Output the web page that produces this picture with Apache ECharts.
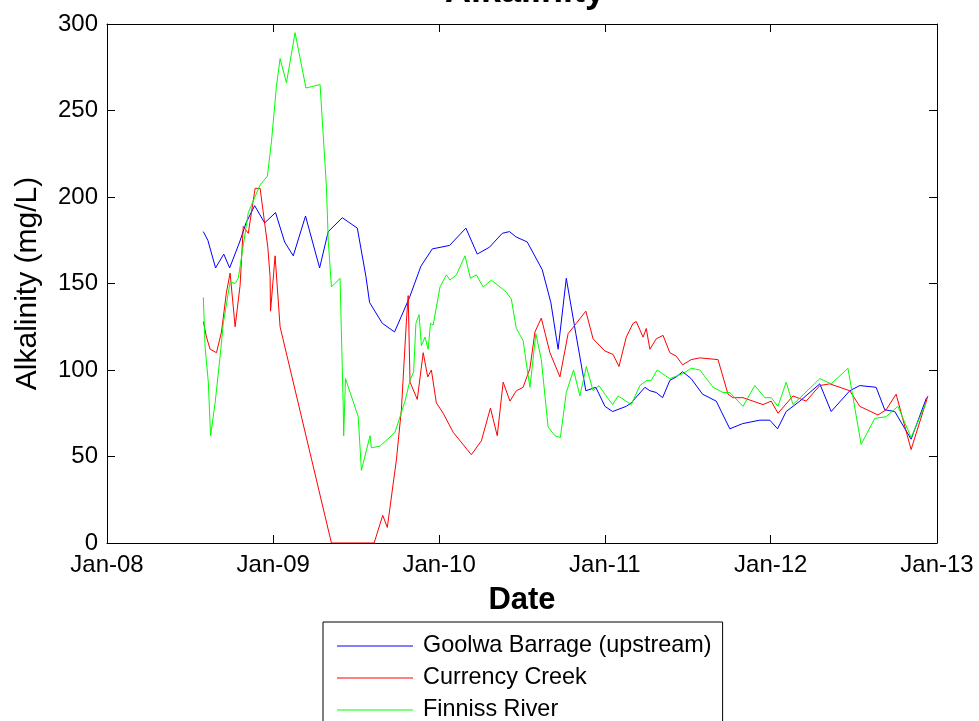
<!DOCTYPE html>
<html>
<head>
<meta charset="utf-8">
<script src="https://cdn.jsdelivr.net/npm/echarts@6/dist/echarts.min.js"></script>
<style>
html,body{margin:0;padding:0;background:#fff;}
#main{width:979px;height:721px;}
</style>
</head>
<body>
<div id="main"></div>
<script>
// Goolwa Barrage (upstream)
var goolwaDates = ['2008-07-31','2008-08-10','2008-08-27','2008-09-14','2008-09-27','2008-10-19','2008-11-02','2008-11-21','2008-12-13','2009-01-06','2009-01-26','2009-02-14','2009-03-13','2009-04-13','2009-05-02','2009-06-02','2009-07-05','2009-07-24','2009-08-01','2009-08-29','2009-09-25','2009-10-28','2009-11-22','2009-12-17','2010-01-24','2010-03-01','2010-03-26','2010-04-22','2010-05-20','2010-06-05','2010-06-19','2010-07-14','2010-08-16','2010-09-04','2010-09-20','2010-10-08','2010-10-29','2010-11-20','2010-12-12','2011-01-01','2011-01-18','2011-02-17','2011-02-28','2011-03-30','2011-04-10','2011-04-24','2011-05-08','2011-05-24','2011-06-07','2011-06-21','2011-07-10','2011-08-04','2011-09-03','2011-10-03','2011-10-31','2011-12-08','2011-12-30','2012-01-16','2012-02-04','2012-03-05','2012-04-18','2012-05-13','2012-06-23','2012-07-15','2012-08-20','2012-09-08','2012-09-30','2012-11-05','2012-12-09'];
var goolwaValues = [180,175,159,167,159,174,185,195,185,191,174,166,189,159,180,188,182,154,139,127,122,142,160,170,172,182,167,171,179,180,177,174,158,139,112,153,121,88,90,79,76,79,81,90,88,87,84,94,96,99,95,86,82,66,69,71,71,66,76,82,92,76,88,91,90,77,76,60,84];

// Currency Creek
var currencyDates = ['2008-07-31','2008-08-07','2008-08-15','2008-08-29','2008-09-09','2008-09-20','2008-09-28','2008-10-09','2008-10-20','2008-10-27','2008-11-07','2008-11-22','2008-12-03','2008-12-20','2008-12-25','2008-12-26','2009-01-05','2009-01-16','2009-05-09','2009-08-11','2009-08-30','2009-09-09','2009-09-29','2009-10-10','2009-10-21','2009-10-25','2009-10-29','2009-11-14','2009-11-27','2009-12-07','2009-12-15','2009-12-26','2010-01-10','2010-02-01','2010-03-13','2010-04-04','2010-04-24','2010-05-09','2010-05-22','2010-06-06','2010-06-20','2010-07-05','2010-07-20','2010-07-31','2010-08-14','2010-09-02','2010-09-24','2010-10-12','2010-10-30','2010-11-20','2010-12-06','2011-01-01','2011-01-19','2011-02-01','2011-02-17','2011-03-04','2011-03-11','2011-03-26','2011-04-02','2011-04-10','2011-04-24','2011-05-09','2011-05-24','2011-06-07','2011-06-21','2011-07-10','2011-07-29','2011-09-07','2011-09-29','2011-10-10','2011-11-01','2011-12-15','2012-01-02','2012-01-17','2012-02-19','2012-03-19','2012-04-18','2012-05-10','2012-06-23','2012-07-15','2012-08-24','2012-09-11','2012-10-03','2012-11-05','2012-12-12'];
var currencyValues = [128,119,112,110,122,145,156,125,149,183,179,205,205,171,154,134,166,125,0,0,16,9,48,77,128,143,93,83,110,96,100,81,75,64,51,59,78,62,93,82,88,90,101,122,130,110,96,121,127,134,118,111,109,102,119,127,128,119,124,112,118,120,110,108,103,106,107,106,86,84,84,80,82,75,85,82,91,92,88,79,74,77,86,54,85];

// Finniss River
var finnissDates = ['2008-07-31','2008-08-04','2008-08-11','2008-08-16','2008-08-26','2008-09-06','2008-09-13','2008-09-28','2008-10-09','2008-10-16','2008-11-07','2008-12-03','2008-12-19','2008-12-28','2009-01-08','2009-01-16','2009-01-30','2009-02-18','2009-03-14','2009-04-14','2009-04-28','2009-05-02','2009-05-09','2009-05-28','2009-06-04','2009-06-05','2009-06-09','2009-07-07','2009-07-14','2009-08-02','2009-08-05','2009-08-24','2009-09-26','2009-10-18','2009-10-29','2009-11-06','2009-11-11','2009-11-18','2009-11-23','2009-12-01','2009-12-08','2009-12-13','2009-12-19','2010-01-03','2010-01-17','2010-01-25','2010-02-08','2010-02-27','2010-03-11','2010-03-24','2010-04-08','2010-04-26','2010-05-15','2010-05-29','2010-06-09','2010-06-20','2010-07-05','2010-07-12','2010-07-20','2010-08-02','2010-08-14','2010-08-29','2010-09-13','2010-09-25','2010-10-08','2010-10-24','2010-11-07','2010-11-21','2010-12-06','2010-12-19','2011-01-01','2011-01-18','2011-01-30','2011-02-28','2011-03-19','2011-04-03','2011-04-13','2011-04-26','2011-05-24','2011-06-22','2011-07-10','2011-07-29','2011-08-27','2011-09-18','2011-10-03','2011-11-01','2011-11-27','2011-12-19','2012-01-02','2012-01-17','2012-02-04','2012-02-19','2012-04-18','2012-05-13','2012-06-19','2012-07-18','2012-08-17','2012-09-11','2012-10-07','2012-11-05','2012-12-08'];
var finnissValues = [142,113,93,62,81,108,127,151,150,153,191,207,212,232,264,280,266,295,263,265,206,175,148,153,79,62,95,73,42,62,55,56,64,82,94,99,127,132,114,119,112,127,126,148,155,152,155,166,153,155,148,152,148,145,141,124,117,104,90,121,106,67,62,61,87,100,85,102,88,91,86,80,85,80,91,94,94,100,95,98,101,100,90,87,87,79,91,84,84,79,93,80,95,92,101,57,72,73,79,61,81];

var seriesNames = ['Goolwa Barrage (upstream)', 'Currency Creek', 'Finniss River'];
var seriesColors = ['#0000ff', '#ff0000', '#00ff00'];
var yTicks = [0, 50, 100, 150, 200, 250, 300];
var monthNames = ['Jan','Feb','Mar','Apr','May','Jun','Jul','Aug','Sep','Oct','Nov','Dec'];

function pairs(dates, vals){
	var out = [];
	for(var i = 0; i < dates.length; i++){
		out.push([dates[i], vals[i]]);
	}
	return out;
}

var myChart = echarts.init(document.getElementById('main'));
var font = 'Liberation Sans, Arial, sans-serif';
var dayMs = 24 * 3600 * 1000;

var allData = [pairs(goolwaDates, goolwaValues), pairs(currencyDates, currencyValues), pairs(finnissDates, finnissValues)];
var series = [];
for(var k = 0; k < 3; k++){
	series.push({
		name: seriesNames[k],
		type: 'line',
		data: allData[k],
		showSymbol: false,
		symbol: 'none',
		lineStyle: {color: seriesColors[k], width: 1},
		itemStyle: {color: seriesColors[k]},
		animation: false
	});
}

function timeAxis(pos, withLabels){
	return {
		type: 'time',
		position: pos,
		min: '2008-01-01',
		max: '2013-01-01',
		minInterval: 365 * dayMs,
		maxInterval: 366 * dayMs,
		name: withLabels ? 'Date' : '',
		nameLocation: 'middle',
		nameGap: 42,
		nameTextStyle: {fontFamily: font, fontSize: 31, fontWeight: 'bold', color: '#000'},
		axisLine: {onZero: false, lineStyle: {color: '#000', width: 1}},
		axisTick: {inside: true, length: 8, lineStyle: {color: '#000'}},
		axisLabel: {
			show: withLabels,
			fontFamily: font, fontSize: 24, color: '#000', margin: 10,
			showMinLabel: true, showMaxLabel: true, hideOverlap: false,
			formatter: function(v){
				var d = new Date(v);
				return monthNames[d.getMonth()] + '-' + String(d.getFullYear()).slice(2);
			}
		},
		splitLine: {show: false}
	};
}

function valueAxis(pos, withLabels){
	return {
		type: 'value',
		position: pos,
		min: yTicks[0],
		max: yTicks[yTicks.length - 1],
		interval: 50,
		name: withLabels ? 'Alkalinity (mg/L)' : '',
		nameLocation: 'middle',
		nameGap: 64,
		nameTextStyle: {fontFamily: font, fontSize: 30, color: '#000'},
		axisLine: {show: true, onZero: false, lineStyle: {color: '#000', width: 1}},
		axisTick: {show: true, inside: true, length: 8, lineStyle: {color: '#000'}},
		axisLabel: {show: withLabels, fontFamily: font, fontSize: 24, color: '#000', margin: 9},
		splitLine: {show: false}
	};
}

var option = {
	backgroundColor: '#fff',
	animation: false,
	title: {
		text: 'Alkalinity',
		left: 520,
		textAlign: 'center',
		top: -31,
		textStyle: {fontFamily: font, fontSize: 36, fontWeight: 'bold', color: '#000'}
	},
	grid: {left: 107, right: 42, top: 24, bottom: 178},
	legend: {
		orient: 'vertical',
		left: 323,
		top: 622,
		height: 200,
		padding: [12, 11, 30, 14],
		itemGap: 8,
		itemWidth: 76,
		itemHeight: 1,
		icon: 'rect',
		borderColor: '#000',
		borderWidth: 1,
		borderRadius: 0,
		data: seriesNames,
		textStyle: {fontFamily: font, fontSize: 23.4, color: '#000', lineHeight: 24, padding: [0, 0, 0, 5]}
	},
	xAxis: [timeAxis('bottom', true), timeAxis('top', false)],
	yAxis: [valueAxis('left', true), valueAxis('right', false)],
	series: series
};
myChart.setOption(option);
</script>
</body>
</html>
